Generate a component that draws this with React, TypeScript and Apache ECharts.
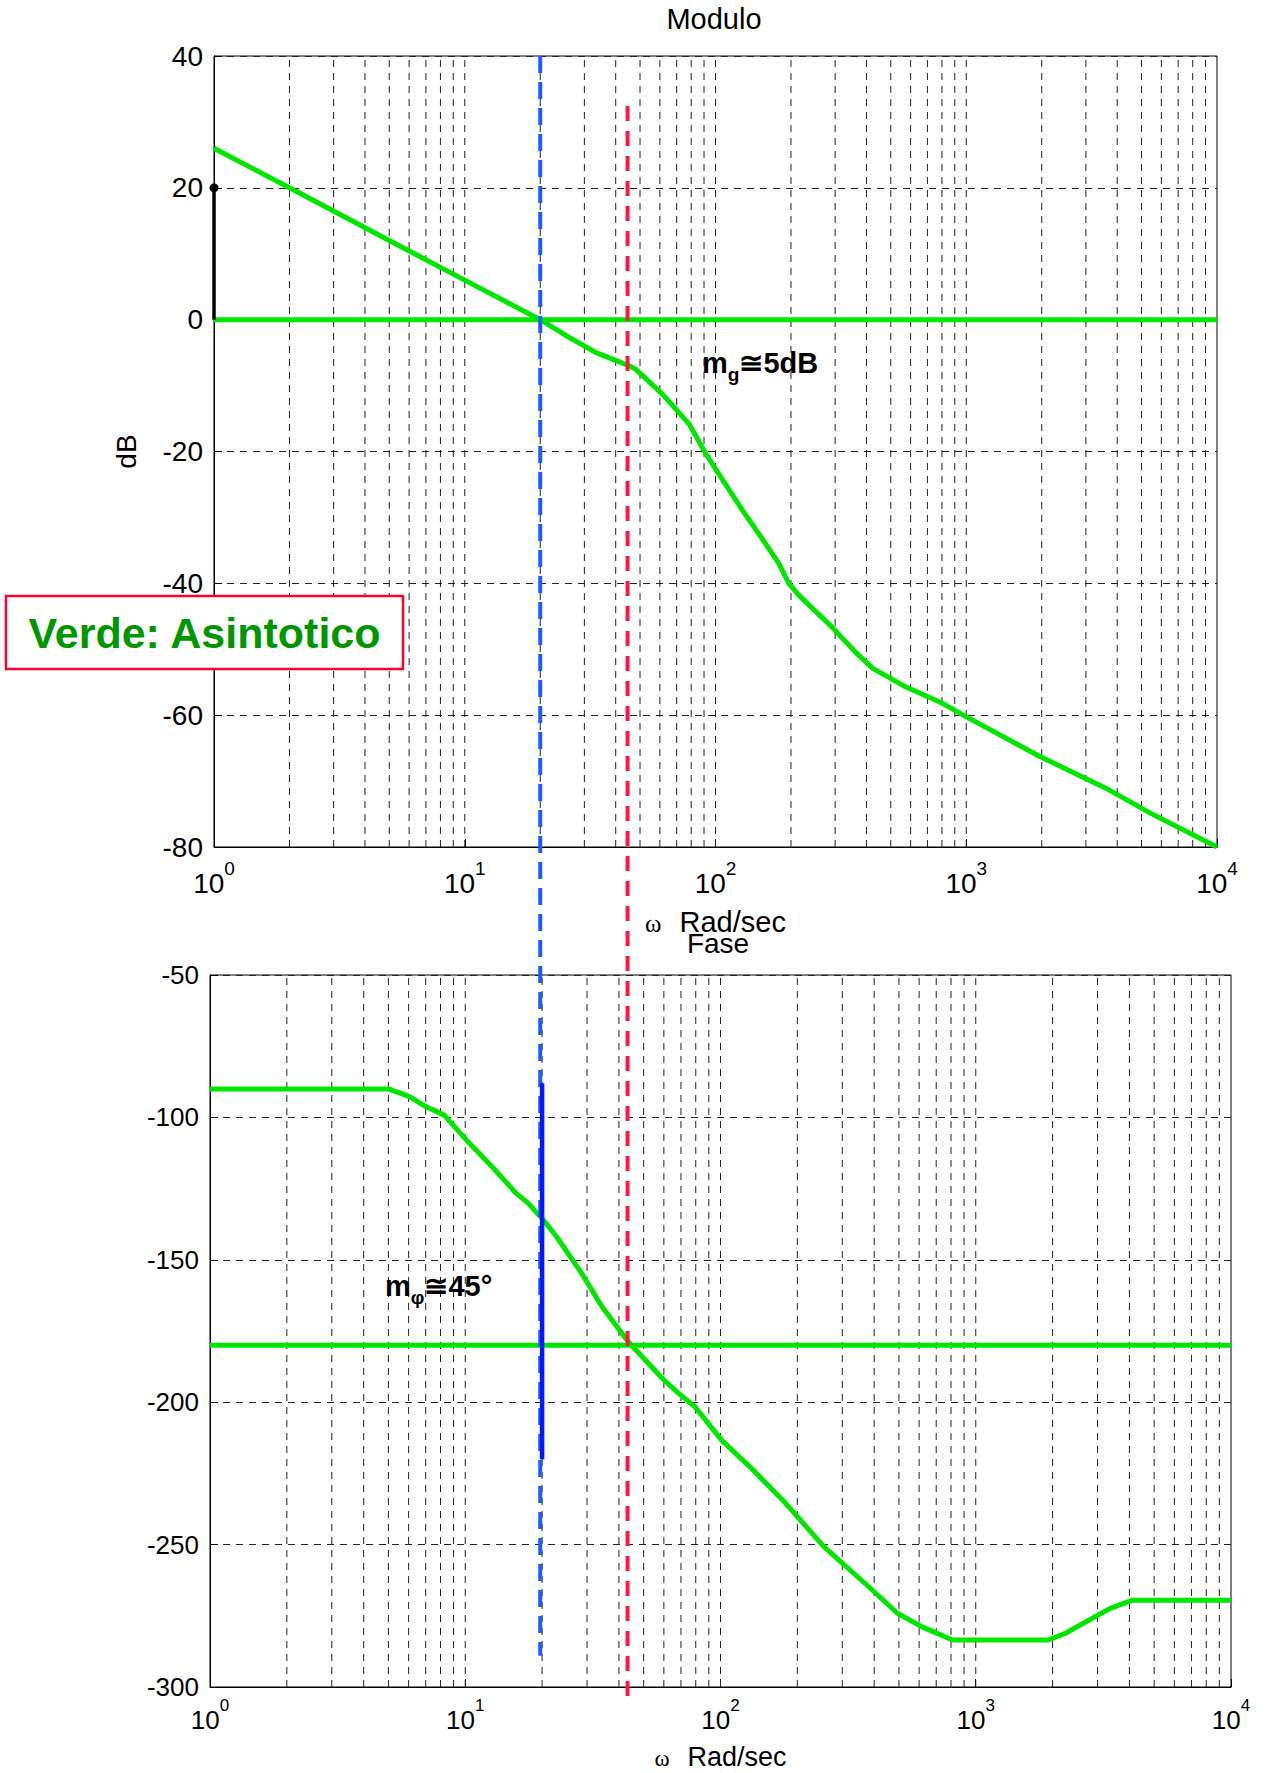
import React, { useEffect, useRef } from "react";
import * as echarts from "echarts";

// ---------- data ----------
const magOmega = [1, 2, 5, 10, 20, 25.3, 33.4, 45.3, 48, 61.4, 78.4, 91.4, 103, 128, 158.5, 179, 196, 216, 291, 365, 424, 573, 804, 1006, 1977, 3740, 5445, 10000];
const magDb = [26, 20, 12, 6, 0, -2.4, -5, -7, -7.5, -11.3, -15.8, -20.3, -23.4, -28.9, -34, -37, -40, -41.9, -46.6, -50.6, -52.9, -55.7, -58.2, -60.3, -66.3, -71.4, -74.9, -80];

const phaseOmega = [1, 5, 6.05, 7, 8.27, 10.1, 13.1, 15.8, 17.6, 20.2, 22.8, 28.5, 34.3, 43.5, 60, 68.4, 79.4, 101, 130, 175, 254, 381, 493, 614, 811, 1925, 2237, 3361, 4115, 10000];
const phaseDeg = [-90, -90, -92.7, -96.2, -99.2, -107.9, -118.5, -126.6, -130, -136, -141.9, -154.6, -166.4, -178.8, -192.2, -196.8, -201.6, -213.3, -222.6, -234.3, -250.7, -264.8, -274.1, -278.8, -283.5, -283.5, -281.2, -272.4, -269.5, -269.5];

const omegaRange = [1, 10000];
const magRange = [-80, 40];
const magStep = 20;
const phaseRange = [-300, -50];
const phaseStep = 50;

const gridMultipliers = [2, 3, 4, 5, 6, 7, 8, 9, 10];
const gridDecades = [1, 10, 100, 1000];

const zeroDbLine = 0;
const minus180Line = -180;
const gainCrossOmega = 20; // blue
const phaseCrossOmega = 44.6; // red
const blueDashDb = [40, -202.7];
const redDashDb = [32.4, -209.7];
const blueSolidDeg = [-88, -220];
const markerOmega = 1;
const markerDb = [20, 0];

// ---------- styles ----------
const FONT = '"Liberation Sans", Arial, Helvetica, sans-serif';
const GREEN = "#00e600";
const GRIDLINE = { color: "#222", width: 1, type: [7, 6] as number[] };

const gridX = gridDecades
  .flatMap((d) => gridMultipliers.map((m) => m * d))
  .filter((v) => v < omegaRange[1]);

function xAxisFor(gridIndex: number, fs: number, sup: number, lh: number, margin: number, nameGap: number, nameFs: number) {
  return {
    type: "log",
    logBase: 10,
    gridIndex,
    min: omegaRange[0],
    max: omegaRange[1],
    axisLine: { show: true, onZero: false, lineStyle: { color: "#000", width: 1 } },
    axisTick: { show: true, inside: true, length: 8, lineStyle: { color: "#000" } },
    splitLine: { show: false },
    axisLabel: {
      margin,
      showMinLabel: true,
      showMaxLabel: true,
      formatter: (v: number) => `{b|10}{s|${Math.round(Math.log10(v))}}`,
      rich: {
        b: { fontSize: fs, lineHeight: fs, verticalAlign: "bottom", color: "#000", fontFamily: FONT },
        s: { fontSize: sup, lineHeight: lh, verticalAlign: "top", color: "#000", fontFamily: FONT },
      },
    },
    name: "{w|ω}{r|Rad/sec}",
    nameLocation: "middle",
    nameGap,
    nameTextStyle: {
      rich: {
        w: { fontSize: nameFs - 4, lineHeight: nameFs - 4, verticalAlign: "bottom", color: "#000", fontFamily: '"Liberation Serif", "DejaVu Serif", serif' },
        r: { fontSize: nameFs, lineHeight: nameFs, verticalAlign: "bottom", color: "#000", fontFamily: FONT, padding: [0, 0, 0, 18] },
      },
    },
  };
}

function yAxisFor(gridIndex: number, range: number[], step: number, fs: number, name: string) {
  return {
    type: "value",
    gridIndex,
    min: range[0],
    max: range[1],
    interval: step,
    axisLine: { show: true, onZero: false, lineStyle: { color: "#000", width: 1 } },
    axisTick: { show: true, inside: true, length: 8, lineStyle: { color: "#000" } },
    axisLabel: { fontSize: fs, color: "#000", margin: 11, fontFamily: FONT },
    splitLine: { show: true, lineStyle: GRIDLINE },
    name,
    nameLocation: "middle",
    nameGap: 74,
    nameRotate: 90,
    nameTextStyle: { fontSize: 28, color: "#000", fontFamily: FONT },
  };
}

function gridSeries(idx: number, range: number[]) {
  return gridX.map((v) => ({
    type: "line",
    xAxisIndex: idx,
    yAxisIndex: idx,
    data: [
      [v, range[0]],
      [v, range[1]],
    ],
    symbol: "none",
    silent: true,
    lineStyle: GRIDLINE,
    z: 1,
  }));
}

const pairs = (xs: number[], ys: number[]) => xs.map((x, i) => [x, ys[i]]);

const subRich = {
  m: { fontSize: 29, fontWeight: "bold", lineHeight: 29, verticalAlign: "top", color: "#000", fontFamily: FONT },
  g: { fontSize: 19, fontWeight: "bold", lineHeight: 36, verticalAlign: "bottom", color: "#000", fontFamily: FONT },
};

const option: any = {
  animation: false,
  backgroundColor: "#fff",
  textStyle: { fontFamily: FONT },
  grid: [
    { left: 214, top: 56, width: 1003, height: 791, show: true, borderColor: "#000", borderWidth: 1, backgroundColor: "transparent", outerBoundsMode: "none" },
    { left: 210, top: 975, width: 1021, height: 712, show: true, borderColor: "#000", borderWidth: 1, backgroundColor: "transparent", outerBoundsMode: "none" },
  ],
  xAxis: [xAxisFor(0, 28, 19, 38, 12, 60, 29), xAxisFor(1, 26, 17, 36, 10, 56, 27)],
  yAxis: [yAxisFor(0, magRange, magStep, 28, "dB"), yAxisFor(1, phaseRange, phaseStep, 26, "")],
  series: [
    ...gridSeries(0, magRange),
    ...gridSeries(1, phaseRange),
    // magnitude
    {
      type: "line",
      xAxisIndex: 0,
      yAxisIndex: 0,
      data: pairs(omegaRange, [zeroDbLine, zeroDbLine]),
      symbol: "none",
      lineStyle: { color: GREEN, width: 5 },
      z: 10,
    },
    {
      type: "line",
      xAxisIndex: 0,
      yAxisIndex: 0,
      data: pairs(magOmega, magDb),
      symbol: "none",
      lineStyle: { color: GREEN, width: 5 },
      z: 10,
    },
    {
      type: "line",
      xAxisIndex: 0,
      yAxisIndex: 0,
      data: [
        { value: [markerOmega, markerDb[0]], symbol: "circle", symbolSize: 9 },
        { value: [markerOmega, markerDb[1]], symbol: "none" },
      ],
      showSymbol: true,
      itemStyle: { color: "#000" },
      lineStyle: { color: "#000", width: 3.5 },
      z: 11,
    },
    {
      type: "line",
      xAxisIndex: 0,
      yAxisIndex: 0,
      clip: false,
      data: pairs([gainCrossOmega, gainCrossOmega], blueDashDb),
      symbol: "none",
      lineStyle: { color: "#1f5bff", width: 4, type: [17, 9] },
      z: 12,
    },
    {
      type: "line",
      xAxisIndex: 0,
      yAxisIndex: 0,
      clip: false,
      data: pairs([phaseCrossOmega, phaseCrossOmega], redDashDb),
      symbol: "none",
      lineStyle: { color: "#ff1744", width: 4, type: [15, 10] },
      z: 12,
    },
    // phase
    {
      type: "line",
      xAxisIndex: 1,
      yAxisIndex: 1,
      data: pairs(omegaRange, [minus180Line, minus180Line]),
      symbol: "none",
      lineStyle: { color: GREEN, width: 5 },
      z: 10,
    },
    {
      type: "line",
      xAxisIndex: 1,
      yAxisIndex: 1,
      data: pairs(phaseOmega, phaseDeg),
      symbol: "none",
      lineStyle: { color: GREEN, width: 5 },
      z: 10,
    },
    {
      type: "line",
      xAxisIndex: 1,
      yAxisIndex: 1,
      data: pairs([gainCrossOmega, gainCrossOmega], blueSolidDeg),
      symbol: "none",
      lineStyle: { color: "#0018ff", width: 4.5 },
      z: 13,
    },
  ],
  graphic: [
    {
      type: "text",
      x: 714,
      y: 19,
      z: 100,
      style: { text: "Modulo", font: `29px ${FONT}`, fill: "#000", align: "center", verticalAlign: "middle", textAlign: "center", textVerticalAlign: "middle" },
    },
    {
      type: "text",
      x: 718,
      y: 943,
      z: 100,
      style: { text: "Fase", font: `28px ${FONT}`, fill: "#000", align: "center", verticalAlign: "middle", textAlign: "center", textVerticalAlign: "middle" },
    },
    {
      type: "rect",
      z: 100,
      shape: { x: 6, y: 596, width: 397, height: 73 },
      style: { fill: "#fff", stroke: "#ff0033", lineWidth: 2.5 },
    },
    {
      type: "text",
      x: 204.5,
      y: 633,
      z: 101,
      style: { text: "Verde: Asintotico", font: `bold 43px ${FONT}`, fill: "#009600", align: "center", verticalAlign: "middle", textAlign: "center", textVerticalAlign: "middle" },
    },
    {
      type: "text",
      x: 702,
      y: 348,
      z: 100,
      style: {
        text: "{m|m}{g|g}{m|≅5dB}",
        align: "left",
        verticalAlign: "top",
        textAlign: "left",
        textVerticalAlign: "top",
        rich: subRich,
      },
    },
    {
      type: "text",
      x: 385,
      y: 1271,
      z: 100,
      style: {
        text: "{m|m}{g|φ}{m|≅45°}",
        align: "left",
        verticalAlign: "top",
        textAlign: "left",
        textVerticalAlign: "top",
        rich: subRich,
      },
    },
  ],
};

export default function App() {
  const ref = useRef<HTMLDivElement>(null);
  useEffect(() => {
    if (!ref.current) return;
    const chart = echarts.init(ref.current, null, { renderer: "svg" });
    chart.setOption(option);
    return () => chart.dispose();
  }, []);
  return (
    <div
      ref={ref}
      style={{ position: "absolute", left: 0, top: 0, width: 1265, height: 1773, background: "#fff" }}
    />
  );
}
